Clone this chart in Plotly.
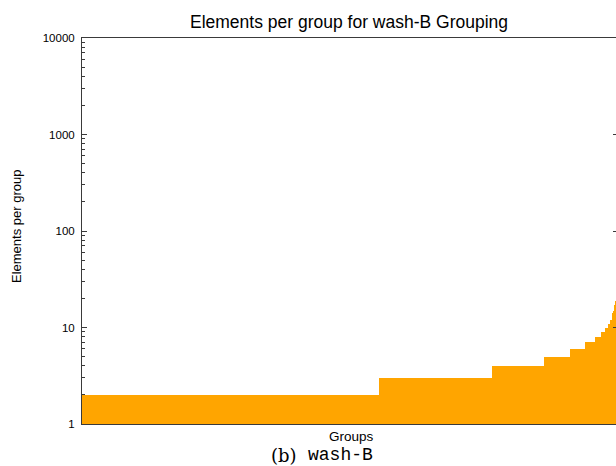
import plotly.graph_objects as go

# Group sizes (elements per group) and how many groups share each size,
# in ascending order of size.
group_sizes = [2, 3, 4, 5, 6, 7, 8, 9, 10, 11, 12, 13, 14, 15, 16, 17, 18, 19]
group_counts = [2960, 1130, 520, 260, 155, 100, 60, 40, 30, 25, 12, 7, 6, 6, 5, 5, 5, 5]

title_text = "Elements per group for wash-B Grouping"
x_title = "Groups"
y_title = "Elements per group"
y_tickvals = [1, 10, 100, 1000, 10000]
y_ticktext = ["1", "10", "100", "1000", "10000"]

# Each run of equal-sized groups becomes one bar whose width is the run length.
starts = []
acc = 0
for c in group_counts:
    starts.append(acc)
    acc += c
centers = [s + c / 2 for s, c in zip(starts, group_counts)]
total_groups = acc

ORANGE = "#FFA500"
AXIS = "#3a3a3a"
FONT = "Liberation Sans, Arial, Helvetica, sans-serif"

fig = go.Figure()
fig.add_trace(go.Bar(
    x=centers, y=group_sizes, width=group_counts,
    marker=dict(color=ORANGE, line=dict(width=0)),
    hoverinfo="skip", showlegend=False,
))
# Empty trace to bring up the mirrored right-hand tick axis.
fig.add_trace(go.Scatter(x=[], y=[], yaxis="y2", showlegend=False))

fig.update_layout(
    width=616, height=466,
    margin=dict(l=82, r=0, t=38, b=42),
    paper_bgcolor="white", plot_bgcolor="white",
    bargap=0,
    font=dict(family=FONT, color="black", size=12),
    title=dict(text=title_text, x=(82 + 616) / 2 / 616, xanchor="center",
               y=1 - 22 / 466, yanchor="middle",
               font=dict(size=17.5, family=FONT, color="black")),
    xaxis=dict(
        range=[0, total_groups], showgrid=False, zeroline=False,
        showticklabels=False, ticks="", showline=True, linecolor=AXIS,
        linewidth=1, mirror=True,
    ),
    yaxis=dict(
        type="log", range=[0, 4], showgrid=False, zeroline=False,
        tickvals=y_tickvals, ticktext=y_ticktext,
        ticks="inside", ticklen=5, tickcolor=AXIS, tickwidth=1,
        minor=dict(ticks="inside", ticklen=3, dtick="D1", tickcolor=AXIS,
                   showgrid=False),
        showline=True, linecolor=AXIS, linewidth=1,
        tickfont=dict(size=11.5, family=FONT, color="black"),
        ticklabelstandoff=4,
    ),
    yaxis2=dict(
        type="log", range=[0, 4], overlaying="y", side="right",
        showgrid=False, zeroline=False, showticklabels=False,
        tickvals=y_tickvals, ticks="inside", ticklen=3, tickcolor=AXIS,
        showline=False,
    ),
    annotations=[
        dict(text=y_title, xref="paper", yref="paper",
             x=-66 / 534, y=(424 - 227) / 386, textangle=-90,
             showarrow=False, xanchor="center", yanchor="middle",
             font=dict(size=13, family=FONT, color="black")),
        dict(text=x_title, xref="paper", yref="paper",
             x=(351 - 82) / 534, y=-(437 - 424) / 386,
             showarrow=False, xanchor="center", yanchor="middle",
             font=dict(size=13.5, family=FONT, color="black")),
        dict(text="(b)", xref="paper", yref="paper",
             x=(299 - 82) / 534, y=-(455 - 424) / 386,
             showarrow=False, xanchor="right", yanchor="middle",
             font=dict(size=18, family="DejaVu Serif, Liberation Serif, serif",
                       color="black")),
        dict(text="wash-B", xref="paper", yref="paper",
             x=(306 - 82) / 534, y=-(455 - 424) / 386,
             showarrow=False, xanchor="left", yanchor="middle",
             font=dict(size=18, family="Liberation Mono, DejaVu Sans Mono, monospace",
                       color="black")),
    ],
)

fig.write_html("out.html")
